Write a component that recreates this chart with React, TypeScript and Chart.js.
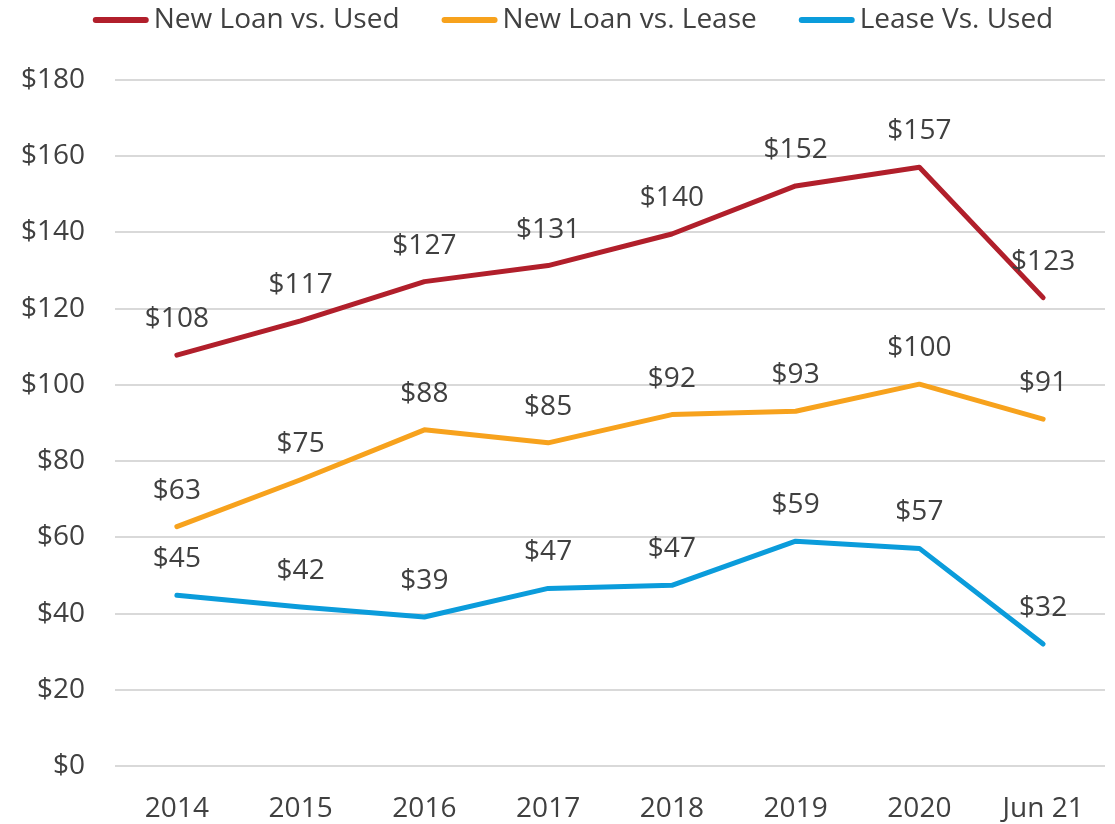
import React, { useEffect, useRef } from "react";
import { Chart, registerables } from "chart.js";

Chart.register(...registerables);

const categories = ["2014", "2015", "2016", "2017", "2018", "2019", "2020", "Jun 21"];
const newLoanVsUsed = [107.8, 116.8, 127.1, 131.3, 139.6, 152.2, 157.1, 122.9];
const newLoanVsLease = [62.8, 75.1, 88.2, 84.8, 92.2, 93.1, 100.2, 91.0];
const leaseVsUsed = [44.8, 41.7, 39.1, 46.6, 47.4, 59.0, 57.1, 32.0];
const seriesNames = ["New Loan vs. Used", "New Loan vs. Lease", "Lease Vs. Used"];
const seriesColors = ["#B11F2B", "#F7A21D", "#0B9CDB"];
const yMin = 0;
const yMax = 180;
const yStep = 20;

const FONT_FAMILY = "'Open Sans', sans-serif";
const FONT_SIZE = 28;
const TEXT_COLOR = "#404040";

const dataLabelsPlugin = {
  id: "dataLabels",
  afterDatasetsDraw(chart: any) {
    const ctx = chart.ctx;
    ctx.save();
    ctx.font = `${FONT_SIZE}px ${FONT_FAMILY}`;
    ctx.fillStyle = TEXT_COLOR;
    ctx.textAlign = "center";
    ctx.textBaseline = "middle";
    chart.data.datasets.forEach((ds: any, i: number) => {
      const meta = chart.getDatasetMeta(i);
      meta.data.forEach((pt: any, j: number) => {
        const v = ds.data[j];
        ctx.fillText(`$${Math.round(v)}`, pt.x, pt.y - 36);
      });
    });
    ctx.restore();
  },
};

const lineLegendPlugin = {
  id: "lineLegend",
  afterDraw(chart: any) {
    const ctx = chart.ctx;
    ctx.save();
    ctx.font = `${FONT_SIZE}px ${FONT_FAMILY}`;
    const lineLen = 56;
    const gap = 5;
    const itemGap = 42;
    const widths = chart.data.datasets.map((ds: any) => ctx.measureText(ds.label).width);
    const total =
      widths.reduce((a: number, w: number) => a + lineLen + gap + w, 0) +
      itemGap * (widths.length - 1);
    let x = 573 - total / 2;
    const y = 20;
    chart.data.datasets.forEach((ds: any, i: number) => {
      ctx.strokeStyle = ds.borderColor;
      ctx.lineWidth = 6;
      ctx.lineCap = "round";
      ctx.beginPath();
      ctx.moveTo(x + 3, y);
      ctx.lineTo(x + lineLen - 3, y);
      ctx.stroke();
      ctx.fillStyle = TEXT_COLOR;
      ctx.textAlign = "left";
      ctx.textBaseline = "middle";
      ctx.fillText(ds.label, x + lineLen + gap, y);
      x += lineLen + gap + widths[i] + itemGap;
    });
    ctx.restore();
  },
};

export default function App() {
  const canvasRef = useRef<HTMLCanvasElement | null>(null);

  useEffect(() => {
    document.body.style.margin = "0";
    const canvas = canvasRef.current;
    if (!canvas) return;
    const seriesData = [newLoanVsUsed, newLoanVsLease, leaseVsUsed];
    const chart = new Chart(canvas, {
      type: "line",
      data: {
        labels: categories,
        datasets: seriesData.map((d, i) => ({
          label: seriesNames[i],
          data: d,
          borderColor: seriesColors[i],
          backgroundColor: seriesColors[i],
          borderWidth: 5,
          pointRadius: 0,
          pointHoverRadius: 0,
          tension: 0,
          borderCapStyle: "round" as const,
          borderJoinStyle: "round" as const,
          fill: false,
        })),
      },
      options: {
        animation: false,
        responsive: false,
        maintainAspectRatio: false,
        layout: { padding: { top: 80, right: 10, left: 0, bottom: 0 } },
        plugins: {
          legend: { display: false },
          tooltip: { enabled: false },
        },
        scales: {
          x: {
            offset: true,
            grid: { display: false },
            border: { display: false },
            ticks: {
              color: TEXT_COLOR,
              font: { family: FONT_FAMILY, size: FONT_SIZE },
              padding: 18,
              maxRotation: 0,
              autoSkip: false,
            },
            afterFit: (scale: any) => {
              scale.height = 58;
            },
          },
          y: {
            min: yMin,
            max: yMax,
            grid: { color: "#D9D9D9", lineWidth: 2, drawTicks: false },
            border: { display: false },
            ticks: {
              stepSize: yStep,
              color: TEXT_COLOR,
              font: { family: FONT_FAMILY, size: FONT_SIZE },
              padding: 30,
              callback: (v: any) => `$${v}`,
            },
            afterFit: (scale: any) => {
              scale.width = 115;
            },
          },
        },
      },
      plugins: [dataLabelsPlugin, lineLegendPlugin],
    });
    return () => chart.destroy();
  }, []);

  return (
    <div style={{ width: 1115, height: 824 }}>
      <canvas ref={canvasRef} width={1115} height={824} style={{ display: "block" }} />
    </div>
  );
}
